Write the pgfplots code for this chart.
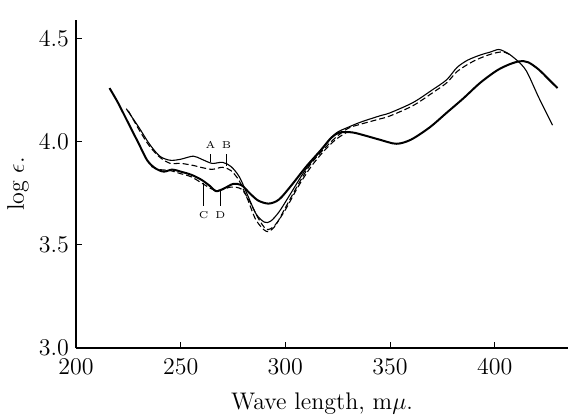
\documentclass[border=0pt]{standalone}
\usepackage{pgfplots}
\pgfplotsset{compat=1.18}

\begin{document}
\begin{tikzpicture}
\begin{axis}[
    scale only axis,
    width=246pt,
    height=164pt,
    xmin=200, xmax=435,
    ymin=3.0, ymax=4.59,
    axis x line*=bottom,
    axis y line*=left,
    axis line style={-, line width=0.6pt},
    xtick={200,250,300,350,400},
    ytick={3.0,3.5,4.0,4.5},
    yticklabel style={/pgf/number format/fixed,/pgf/number format/precision=1,/pgf/number format/fixed zerofill},
    ticklabel style={font=\large},
    xticklabel style={yshift=-2pt},
    tick align=inside,
    major tick length=3pt,
    tick style={black, line width=0.4pt},
    xlabel={Wave length, m$\mu$.},
    ylabel={log $\epsilon$.},
    label style={font=\large},
    xlabel style={at={(axis description cs:0.5,0)}, yshift=-28pt, anchor=center},
    ylabel style={at={(axis description cs:0,0.5)}, anchor=center, yshift=29pt},
    clip=false,
]
% curve C (heavy solid)
\addplot[black, line width=1.0pt, smooth, tension=0.5] coordinates {
    (216,4.26) (220,4.19) (225,4.09) (230,3.99) (234,3.91) (238,3.87)
    (242,3.855) (246,3.865) (250,3.855) (255,3.84) (260,3.815) (264,3.785)
    (267,3.76) (271,3.775) (275,3.795) (279,3.79) (283,3.75) (287,3.715)
    (292,3.70) (297,3.72) (303,3.79) (310,3.88) (317,3.96) (322,4.02)
    (326,4.045) (332,4.045) (338,4.03) (345,4.01) (353,3.99) (360,4.01)
    (369,4.07) (377,4.14) (385,4.21) (393,4.285) (401,4.345) (407,4.375)
    (412,4.39) (416,4.385) (421,4.35) (426,4.30) (430,4.26)
};
% curve A (thin solid)
\addplot[black, line width=0.55pt, smooth, tension=0.5] coordinates {
    (224,4.16) (230,4.07) (235,3.99) (240,3.93) (245,3.91) (250,3.915)
    (256,3.93) (260,3.915) (265,3.895) (270,3.90) (274,3.88) (278,3.83)
    (282,3.74) (286,3.65) (290,3.61) (293,3.615) (297,3.66) (302,3.74)
    (310,3.87) (318,3.97) (324,4.04) (330,4.07) (336,4.095) (345,4.125)
    (350,4.14) (361,4.19) (370,4.25) (377,4.30) (382,4.36) (387,4.395)
    (393,4.42) (398,4.435) (402,4.447) (406,4.43) (410,4.40) (415,4.345)
    (421,4.215) (427.6,4.08)
};
% curve B (dashed)
\addplot[black, line width=0.55pt, dash pattern=on 3pt off 1.5pt, smooth, tension=0.5] coordinates {
    (225,4.15) (230,4.06) (235,3.98) (240,3.925) (245,3.895) (250,3.895)
    (256,3.885) (260,3.875) (265,3.866) (270,3.876) (274,3.86) (278,3.81)
    (282,3.72) (286,3.62) (291,3.565) (295,3.59) (300,3.68) (306,3.79)
    (312,3.89) (318,3.96) (324,4.02) (330,4.065) (336,4.085) (345,4.11)
    (350,4.125) (361,4.175) (370,4.235) (377,4.285) (382,4.34) (388,4.38)
    (393,4.405) (399,4.427) (404,4.435) (408,4.418)
};
% curve D (dashed)
\addplot[black, line width=0.55pt, dash pattern=on 3pt off 1.5pt, smooth, tension=0.5] coordinates {
    (236,3.88) (240,3.865) (245,3.86) (250,3.845) (255,3.83) (260,3.80)
    (265,3.77) (269,3.765) (274,3.78) (279,3.77) (283,3.71) (287,3.63)
    (291,3.575) (295,3.595) (300,3.67) (306,3.78) (312,3.875) (318,3.95)
    (324,4.01) (330,4.05)
};
% curve labels
\draw[line width=0.4pt] (axis cs:264.3,3.94) -- (axis cs:264.3,3.90);
\draw[line width=0.4pt] (axis cs:271.9,3.94) -- (axis cs:271.9,3.88);
\draw[line width=0.4pt] (axis cs:261,3.69) -- (axis cs:261,3.80);
\draw[line width=0.4pt] (axis cs:269,3.69) -- (axis cs:269,3.76);
\node[font=\tiny, anchor=south] at (axis cs:264.3,3.935) {A};
\node[font=\tiny, anchor=south] at (axis cs:271.9,3.935) {B};
\node[font=\tiny, anchor=north] at (axis cs:261,3.695) {C};
\node[font=\tiny, anchor=north] at (axis cs:269,3.695) {D};
\coordinate (ll) at (rel axis cs:0,0);
\coordinate (ur) at (rel axis cs:1,1);
\end{axis}
\pgfresetboundingbox
\path[use as bounding box] ([xshift=-38pt,yshift=-35pt]ll) rectangle ([yshift=10pt]ur);
\end{tikzpicture}
\end{document}
